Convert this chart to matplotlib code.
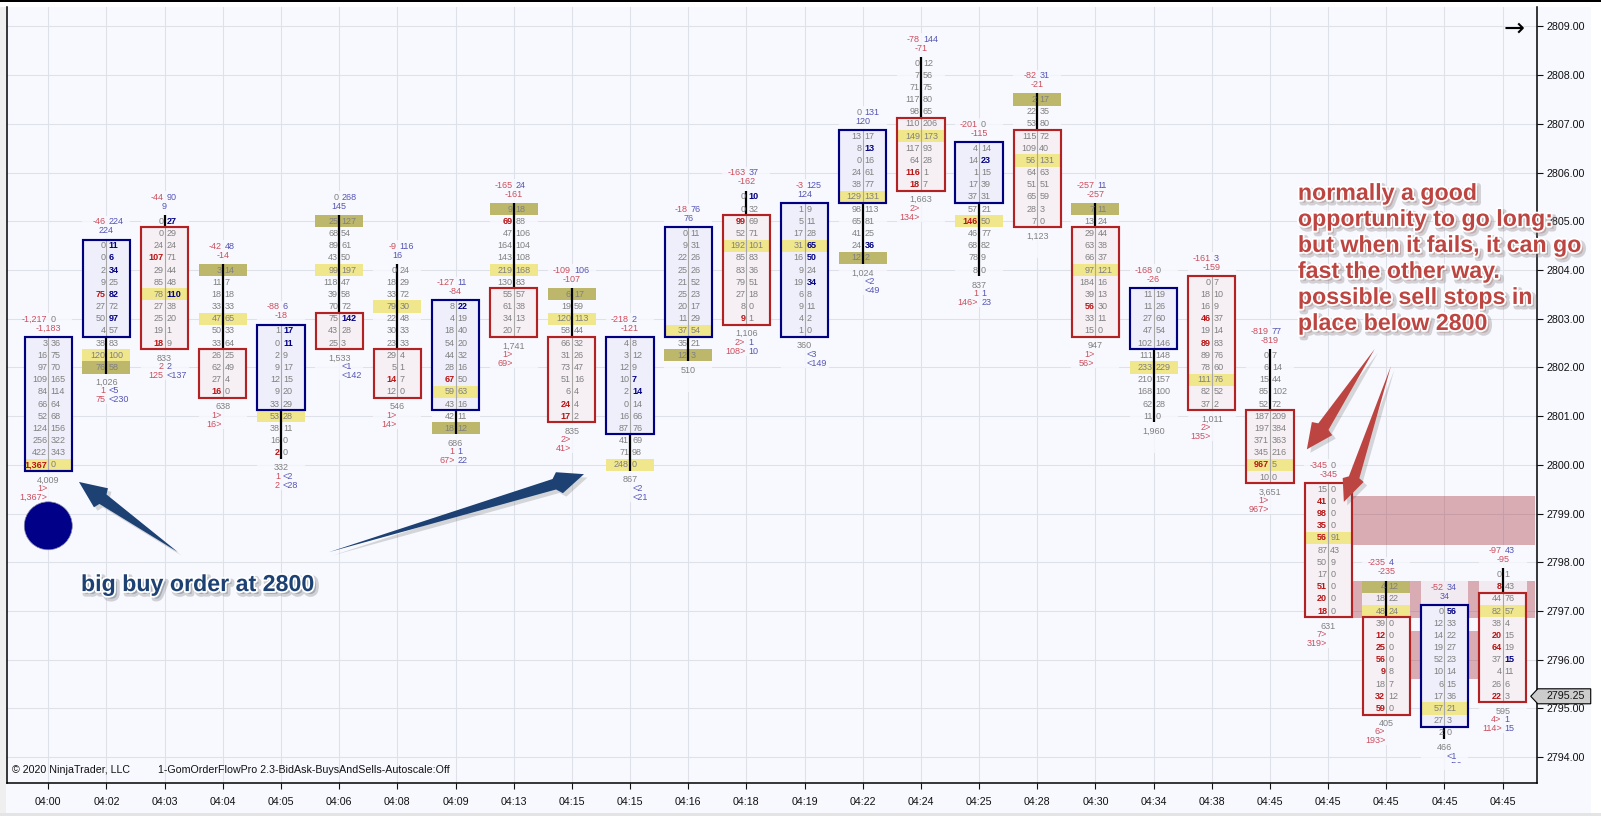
import matplotlib
matplotlib.use("Agg")
import matplotlib.pyplot as plt
import matplotlib.patheffects as pe
from matplotlib.patches import Rectangle, Ellipse, Polygon
from matplotlib.ticker import FixedLocator, FormatStrFormatter

plt.rcParams['font.family'] = ['Liberation Sans', 'DejaVu Sans']

# ---------------- data ------------------------------------
times = ['04:00', '04:02', '04:03', '04:04', '04:05', '04:06', '04:08', '04:09', '04:13',
         '04:15', '04:15', '04:16', '04:18', '04:19', '04:22', '04:24', '04:25', '04:28',
         '04:30', '04:34', '04:38', '04:45', '04:45', '04:45', '04:45', '04:45']

# price of the first row of each bar, rows step down 0.25
top_price = [2802.5, 2804.5, 2805.0, 2804.0, 2802.75, 2805.0, 2804.0, 2803.25, 2805.25,
             2803.5, 2802.5, 2804.75, 2805.5, 2805.25, 2806.75, 2808.25, 2806.5, 2807.5,
             2805.25, 2803.5, 2803.75, 2802.25, 2799.5, 2797.5, 2797.0, 2797.75]

bids = [[3, 16, 97, 109, 84, 66, 52, 124, 256, 422, 1367],
        [0, 0, 2, 9, 75, 27, 50, 4, 38, 120, 76],
        [0, 0, 24, 107, 29, 85, 78, 27, 25, 19, 18],
        [3, 11, 18, 33, 47, 50, 33, 26, 62, 27, 16],
        [1, 0, 2, 9, 12, 9, 33, 53, 38, 16, 2],
        [25, 68, 89, 43, 99, 118, 39, 70, 75, 43, 25],
        [0, 18, 33, 79, 22, 30, 23, 29, 5, 14, 12],
        [8, 4, 18, 54, 44, 28, 67, 59, 43, 42, 18],
        [9, 69, 47, 164, 143, 219, 130, 55, 61, 34, 20],
        [6, 19, 120, 58, 66, 31, 73, 51, 6, 24, 17],
        [4, 3, 12, 10, 2, 0, 16, 87, 41, 71, 248],
        [0, 9, 22, 25, 21, 25, 20, 11, 37, 35, 12],
        [0, 0, 99, 52, 192, 85, 83, 79, 27, 8, 9],
        [1, 5, 17, 31, 16, 9, 19, 6, 9, 4, 1],
        [13, 8, 0, 24, 38, 129, 98, 65, 41, 24, 12],
        [0, 7, 71, 117, 98, 110, 149, 117, 64, 116, 18],
        [4, 14, 1, 17, 37, 57, 146, 46, 68, 78, 8],
        [2, 22, 53, 115, 109, 56, 64, 51, 65, 28, 7],
        [7, 13, 29, 63, 66, 97, 184, 39, 56, 33, 15],
        [11, 11, 27, 47, 102, 111, 233, 210, 168, 62, 11],
        [0, 18, 16, 46, 19, 89, 89, 78, 111, 82, 37],
        [0, 6, 15, 85, 52, 187, 197, 371, 345, 967, 10],
        [15, 41, 98, 35, 56, 87, 50, 17, 51, 20, 18],
        [4, 18, 48, 39, 12, 25, 56, 9, 18, 32, 59],
        [0, 12, 14, 19, 52, 10, 6, 17, 57, 27, 2],
        [0, 8, 44, 82, 38, 20, 64, 37, 4, 26, 22]]

asks = [[36, 75, 70, 165, 114, 64, 68, 156, 322, 343, 0],
        [11, 6, 34, 25, 82, 72, 97, 57, 83, 100, 58],
        [27, 29, 24, 71, 44, 48, 110, 38, 20, 1, 9],
        [14, 7, 18, 33, 65, 33, 64, 25, 49, 4, 0],
        [17, 11, 9, 17, 15, 20, 29, 28, 11, 0, 0],
        [127, 54, 61, 50, 197, 47, 58, 72, 142, 28, 3],
        [24, 29, 72, 30, 48, 33, 33, 4, 1, 7, 0],
        [22, 19, 40, 20, 32, 16, 50, 63, 16, 11, 12],
        [18, 88, 106, 104, 108, 168, 83, 57, 38, 13, 7],
        [17, 59, 113, 44, 32, 26, 47, 16, 4, 4, 2],
        [8, 12, 9, 7, 14, 14, 66, 76, 69, 98, 0],
        [11, 31, 26, 26, 52, 23, 17, 29, 54, 21, 3],
        [10, 32, 69, 71, 101, 83, 36, 51, 18, 0, 1],
        [9, 11, 28, 65, 50, 24, 34, 8, 11, 2, 0],
        [17, 13, 16, 61, 77, 131, 113, 81, 25, 36, 2],
        [12, 56, 75, 80, 65, 206, 173, 93, 28, 1, 7],
        [14, 23, 15, 39, 31, 21, 50, 77, 82, 9, 0],
        [17, 35, 80, 72, 40, 131, 63, 51, 59, 3, 0],
        [11, 24, 44, 38, 37, 121, 16, 13, 30, 11, 0],
        [19, 26, 60, 54, 146, 148, 229, 157, 100, 28, 0],
        [7, 10, 9, 37, 14, 83, 76, 60, 76, 52, 2],
        [7, 14, 44, 102, 72, 209, 384, 363, 216, 5, 0],
        [0, 0, 0, 0, 91, 43, 9, 0, 0, 0, 0],
        [12, 22, 24, 0, 0, 0, 0, 8, 7, 12, 0],
        [56, 33, 22, 27, 23, 14, 15, 36, 21, 3, 0],
        [1, 43, 76, 57, 4, 15, 19, 15, 11, 6, 3]]

bid_bold = [[10], [4], [3, 10], [10], [10], [], [9], [6], [1], [9, 10], [], [], [2, 10], [], [],
            [9, 10], [6], [], [8], [], [3, 5], [9], [1, 2, 3, 4, 8, 9, 10], [4, 5, 6, 7, 9, 10],
            [], [1, 5, 6, 10]]
ask_bold = [[], [0, 1, 2, 4, 6], [0, 6], [], [0, 1], [8], [], [0], [], [], [3, 4], [], [0],
            [3, 4, 6], [1, 9], [], [1], [], [], [], [], [], [], [], [0], [7]]

body_first = [0, 0, 1, 7, 0, 8, 7, 0, 7, 4, 0, 0, 2, 0, 0, 5, 0, 3, 2, 0, 0, 5, 0, 3, 0, 2]
body_last = [10, 7, 10, 10, 6, 10, 10, 8, 10, 10, 7, 8, 10, 10, 5, 10, 4, 10, 10, 4, 10, 10, 10, 10, 9, 10]
is_up = [1, 1, 0, 0, 1, 0, 0, 1, 0, 0, 1, 1, 0, 1, 1, 0, 1, 0, 0, 1, 0, 0, 0, 0, 1, 0]

poc_row = [10, 9, 6, 4, 7, 4, 3, 7, 5, 2, 10, 8, 4, 3, 5, 6, 6, 5, 5, 6, 8, 9, 4, 2, 8, 3]
olive_row = [None, 10, None, 0, None, 0, None, 10, 0, 0, None, 10, None, None, 10, None, None,
             0, 0, None, None, None, None, 0, None, None]

top_left = ['-1,217', '-46', '-44', '-42', '-88', '0', '-9', '-127', '-165', '-109', '-218', '-18', '-163',
            '-3', '0', '-78', '-201', '-82', '-257', '-168', '-161', '-819', '-345', '-235', '-52', '-97']
top_right = ['0', '224', '90', '48', '6', '268', '116', '11', '24', '106', '2', '76', '37',
             '125', '131', '144', '0', '31', '11', '0', '3', '77', '0', '4', '34', '43']
top_delta = ['-1,183', '224', '9', '-14', '-18', '145', '16', '-84', '-161', '-107', '-121', '76', '-162',
             '124', '120', '-71', '-115', '-21', '-257', '-26', '-159', '-819', '-345', '-235', '34', '-95']

volume = ['4,009', '1,026', '833', '638', '332', '1,533', '546', '686', '1,741', '835', '867', '510', '1,106',
          '360', '1,024', '1,663', '837', '1,123', '947', '1,960', '1,011', '3,651', '631', '405', '466', '595']
low1_left = ['1>', '1', '2', '1>', '1', '', '1>', '1', '1>', '2>', '', '', '2>',
             '', '', '2>', '1', '', '1>', '', '2>', '1>', '7>', '6>', '', '4>']
low1_right = ['', '<5', '2', '', '<2', '<1', '', '1', '', '', '<2', '', '1',
              '<3', '<2', '', '1', '', '', '', '', '', '', '', '<1', '1']
low2_left = ['1,367>', '75', '125', '16>', '2', '', '14>', '67>', '69>', '41>', '', '', '108>',
             '', '', '134>', '146>', '', '56>', '', '135>', '967>', '319>', '193>', '', '114>']
low2_right = ['', '<230', '<137', '', '<28', '<142', '', '22', '', '', '<21', '', '10',
              '<149', '<49', '', '23', '', '', '', '', '', '', '', '<56', '15']

# shaded price zones: x from, x to, price high, price low
zone_x0 = [22, 22, 23]
zone_x1 = [25.55, 25.55, 25]
zone_hi = [2799.36, 2797.62, 2796.6]
zone_lo = [2798.35, 2796.86, 2795.6]

last_price = 2795.25
price_ticks = list(range(2794, 2810))

# callout arrows: tip, tail, barb, barb (bar index, price)
blue_arrows = [[(0.528, 2799.65), (2.229, 2798.21), (0.785, 2799.13), (1.026, 2799.52)],
               [(9.208, 2799.81), (4.825, 2798.21), (8.726, 2799.85), (8.846, 2799.42)]]
red_arrows = [[(21.634, 2800.32), (22.80, 2802.38), (21.72, 2800.88), (22.07, 2800.61)],
              [(22.27, 2799.24), (23.08, 2802.03), (22.25, 2799.73), (22.61, 2799.65)]]
red_lines = ['normally a good', 'opportunity to go long:', 'but when it fails, it can go',
             'fast the other way.', 'possible sell stops in', 'place below 2800']

# ---------------- colors -----------------
BG = '#F8F9FF'
GRID = '#DFE1E8'
GREY = '#808080'
RED_LBL = '#CC4E5C'
BLUE_LBL = '#5555B5'
RED_B = '#B81414'
BLUE_B = '#000080'
BOX_UP = '#000080'
BOX_DN = '#B22222'
FILL_UP = '#EEEFFA'
FILL_DN = '#F6F0F5'
RED_ARROW = '#BC4542'
BLUE_ARROW = '#1C4172'

FS = 6.5
TICK_FS = 7.7
ROW = 0.25
PX_P = 1 / 48.72   # one pixel in price units

fig = plt.figure(figsize=(16.01, 8.16), dpi=100, facecolor=BG)
ax = fig.add_axes([6.5 / 1601, 1 - 783 / 816, (1537 - 6.5) / 1601, (783 - 7) / 816], facecolor=BG)
ax.set_xlim(-0.718, 25.59)
ax.set_ylim(2793.47, 2809.40)

# window chrome around the chart
fig.patches.append(Rectangle((0, 0), 6 / 1601, 1, transform=fig.transFigure, fc='#EFEFEF', ec='none', zorder=-5))
fig.patches.append(Rectangle((0, 1 - 7 / 816), 1, 7 / 816, transform=fig.transFigure, fc='white', ec='none', zorder=-5))
fig.patches.append(Rectangle((0, 1 - 1.5 / 816), 1, 1.5 / 816, transform=fig.transFigure, fc='black', ec='none', zorder=-4))
fig.patches.append(Rectangle((1591 / 1601, 0), 10 / 1601, 1, transform=fig.transFigure, fc='white', ec='none', zorder=-5))
fig.patches.append(Rectangle((0, 0), 1, 3 / 816, transform=fig.transFigure, fc='#E4E4E4', ec='none', zorder=-5))

ax.set_axisbelow(True)
ax.xaxis.set_major_locator(FixedLocator(list(range(len(times)))))
ax.set_xticklabels(times)
ax.yaxis.set_major_locator(FixedLocator(price_ticks))
ax.yaxis.set_major_formatter(FormatStrFormatter('%.2f'))
ax.yaxis.tick_right()
ax.grid(True, color=GRID, lw=0.75)
ax.tick_params(axis='both', labelsize=TICK_FS, colors='#111111', width=0.8, length=4.3)
ax.tick_params(axis='x', pad=6)
ax.tick_params(axis='y', pad=2.5)
for s in ax.spines.values():
    s.set_linewidth(1.1)
ax.spines['top'].set_visible(False)

for x0, x1, hi, lo in zip(zone_x0, zone_x1, zone_hi, zone_lo):
    ax.add_patch(Rectangle((x0, lo), x1 - x0, hi - lo, fc='#A52A35', alpha=0.37, ec='none', zorder=1))


def row_text(x, y, left, right, c_left, c_right, w_left='normal', w_right='normal', z=7):
    dx_l, dx_r = 1 / 58.18, 2 / 58.18
    if left != '':
        ax.text(x - dx_l, y, left, ha='right', va='center', fontsize=FS, color=c_left, fontweight=w_left, zorder=z)
    if right != '':
        return ax.text(x + dx_r, y, right, ha='left', va='center', fontsize=FS, color=c_right, fontweight=w_right, zorder=z)


for i in range(len(times)):
    n = len(bids[i])
    prices = [top_price[i] - ROW * k for k in range(n)]
    hw = 24 / 58.18
    low = prices[-1] - ROW / 2
    high = prices[0] + ROW / 2

    # page colored patch behind the column, it hides grid and zones
    mask_hi = prices[0] + 30 * PX_P
    mask_lo = prices[-1] - 37 * PX_P
    ax.add_patch(Rectangle((i - hw, mask_lo), 2 * hw, mask_hi - mask_lo, fc=BG, alpha=0.82, ec='none', zorder=2))

    # candle body
    b_hi = prices[body_first[i]] + ROW / 2
    b_lo = prices[body_last[i]] - ROW / 2
    box = BOX_UP if is_up[i] else BOX_DN
    fill = FILL_UP if is_up[i] else FILL_DN
    ax.add_patch(Rectangle((i - 23.6 / 58.18, b_lo), 47.2 / 58.18, b_hi - b_lo, fc=fill, ec='none', zorder=3.2))

    # highlighted rows
    p = prices[poc_row[i]]
    ax.add_patch(Rectangle((i - hw, p - ROW / 2), 2 * hw, ROW, fc='#F0E68C', ec='none', zorder=3.4))
    if olive_row[i] is not None:
        p = prices[olive_row[i]]
        ax.add_patch(Rectangle((i - hw, p - ROW / 2), 2 * hw, ROW, fc='#BDB76B', ec='none', zorder=3.4))

    # thin line in the body, black wick outside it
    ax.plot([i, i], [b_lo, b_hi], color='#A8A8A8', lw=0.8, zorder=3.5)
    if high > b_hi:
        ax.plot([i, i], [b_hi, high], color='black', lw=1.6, solid_capstyle='butt', zorder=3.6)
    if low < b_lo:
        ax.plot([i, i], [low, b_lo], color='black', lw=1.6, solid_capstyle='butt', zorder=3.6)
    ax.add_patch(Rectangle((i - 23.6 / 58.18, b_lo), 47.2 / 58.18, b_hi - b_lo, fc='none', ec=box, lw=1.55, zorder=4, joinstyle='miter'))

    # bid / ask numbers
    for k in range(n):
        bb = k in bid_bold[i]
        ab = k in ask_bold[i]
        row_text(i, prices[k], f'{bids[i][k]:,}', f'{asks[i][k]:,}',
                 RED_B if bb else GREY, BLUE_B if ab else GREY,
                 'bold' if bb else 'normal', 'bold' if ab else 'normal')

    # labels above
    c_l = GREY if top_left[i] == '0' else RED_LBL
    c_r = GREY if top_right[i] == '0' else BLUE_LBL
    row_text(i, prices[0] + 24 * PX_P, top_left[i], top_right[i], c_l, c_r)
    c_d = RED_LBL if top_delta[i].startswith('-') else BLUE_LBL
    ax.text(i, prices[0] + 15 * PX_P, top_delta[i], ha='center', va='center', fontsize=FS, color=c_d, zorder=7)

    # labels below
    ax.text(i, prices[-1] - 15 * PX_P, volume[i], ha='center', va='center', fontsize=FS, color=GREY, zorder=7)
    row_text(i, prices[-1] - 23.5 * PX_P, low1_left[i], low1_right[i], RED_LBL, BLUE_LBL)
    t = row_text(i, prices[-1] - 32.5 * PX_P, low2_left[i], low2_right[i], RED_LBL, BLUE_LBL)
    if i == 24:
        # this last label runs out of the panel in the original
        t.set_clip_path(Rectangle((i - 1, prices[-1] - 30 * PX_P), 2, 15 * PX_P, transform=ax.transData))
        t.set_clip_on(True)

# big dot under the first bar
ax.add_patch(Ellipse((0, 2798.75), 48 / 58.18, 48 * PX_P, fc='#000088', ec='#8888AA', lw=0.5, zorder=5))


def callout(pts, color):
    tip, tail, b1, b2 = pts
    mx, my = (b1[0] + b2[0]) / 2, (b1[1] + b2[1]) / 2
    back = 0.02
    n1 = (mx + (b1[0] - mx) * 0.5 + (tail[0] - tip[0]) * back, my + (b1[1] - my) * 0.5 + (tail[1] - tip[1]) * back)
    n2 = (mx + (b2[0] - mx) * 0.5 + (tail[0] - tip[0]) * back, my + (b2[1] - my) * 0.5 + (tail[1] - tip[1]) * back)
    poly = Polygon([tail, n1, b1, tip, b2, n2], closed=True, fc=color, ec='none', zorder=9)
    poly.set_path_effects([pe.SimplePatchShadow(offset=(2.5, -2.5), alpha=0.22, shadow_rgbFace='#555555'), pe.Normal()])
    ax.add_patch(poly)


for a in blue_arrows:
    callout(a, BLUE_ARROW)
for a in red_arrows:
    callout(a, RED_ARROW)

glow = [pe.Stroke(linewidth=4, foreground='#777777', alpha=0.3, offset=(2, -2)),
        pe.Stroke(linewidth=2.6, foreground='white'), pe.Normal()]
ax.text(0.562, 2797.41, 'big buy order at 2800', fontsize=16.7, fontweight='bold', color=BLUE_ARROW,
        path_effects=glow, zorder=12, va='baseline')
for k, line in enumerate(red_lines):
    ax.text(21.48, 2805.44 - k * 0.534, line, fontsize=16.7, fontweight='bold', color=RED_ARROW,
            path_effects=glow, zorder=12, va='baseline', clip_on=False)

# small arrow top right
ax.text(25.19, 2808.95, '\u2192', fontsize=18, color='black', ha='center', va='center', zorder=8,
        family='DejaVu Sans')

# last price marker
tr = ax.get_yaxis_transform()
mk = Polygon([(0.9959, last_price), (1.0005, last_price + 7.5 * PX_P), (1.0351, last_price + 7.5 * PX_P),
              (1.0351, last_price - 7.5 * PX_P), (1.0005, last_price - 7.5 * PX_P)], closed=True,
             transform=tr, fc='#CCCCCC', ec='black', lw=0.8, clip_on=False, zorder=10)
ax.add_patch(mk)
ax.text(1.0061, last_price, f'{last_price:.2f}', transform=tr, fontsize=TICK_FS, color='#111111', va='center', zorder=11)

ax.text(0.0037, 0.0168, '\u00a9 2020 NinjaTrader, LLC', transform=ax.transAxes, fontsize=TICK_FS, color='#111111', va='center')
ax.text(0.0990, 0.0168, '1-GomOrderFlowPro 2.3-BidAsk-BuysAndSells-Autoscale:Off', transform=ax.transAxes,
        fontsize=TICK_FS, color='#111111', va='center')

fig.savefig('out.png', dpi=100, facecolor=fig.get_facecolor())
